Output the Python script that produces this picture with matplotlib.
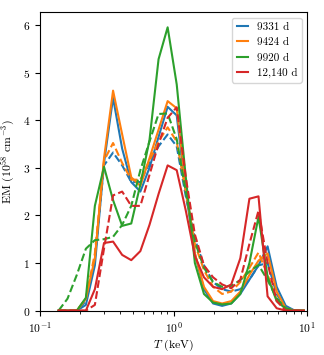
import numpy as np
import matplotlib
matplotlib.use("Agg")
import matplotlib.pyplot as plt

plt.rcParams['font.family'] = 'serif'
plt.rcParams['font.serif'] = ['cmr10']
plt.rcParams['mathtext.fontset'] = 'cm'
plt.rcParams['axes.formatter.use_mathtext'] = True
plt.rcParams['font.size'] = 8
plt.rcParams['axes.labelsize'] = 8.5
plt.rcParams['xtick.labelsize'] = 8.3
plt.rcParams['ytick.labelsize'] = 8.3

# temperature grid (keV)
T = [0.138, 0.161, 0.189, 0.221, 0.258, 0.302, 0.353, 0.413, 0.483, 0.565,
     0.661, 0.773, 0.904, 1.057, 1.236, 1.445, 1.690, 1.977, 2.312, 2.704,
     3.162, 3.698, 4.325, 5.058, 5.916, 6.918, 8.091, 9.462]

labels = ["9331 d", "9424 d", "9920 d", "12,140 d"]
colors = ["C0", "C1", "C2", "C3"]

# EM in 1e58 cm^-3, solid / dashed model for each epoch
em_9331 = [0, 0, 0, 0.12, 0.95, 3.1, 4.47, 3.4, 2.7, 2.5, 3.0, 3.65, 4.28, 4.1,
           2.5, 1.2, 0.45, 0.15, 0.1, 0.15, 0.35, 0.65, 0.95, 1.35, 0.5, 0.1, 0, 0]
em_9331_d = [0, 0, 0, 0.2, 1.1, 3.05, 3.32, 3.05, 2.7, 2.7, 3.1, 3.45, 3.7, 3.45,
             2.4, 1.5, 0.95, 0.6, 0.45, 0.4, 0.45, 0.65, 0.95, 1.0, 0.35, 0.05, 0, 0]
em_9424 = [0, 0, 0, 0.25, 1.1, 3.2, 4.62, 3.7, 2.8, 2.62, 3.2, 3.8, 4.4, 4.25,
           2.6, 1.2, 0.5, 0.2, 0.15, 0.2, 0.4, 0.75, 1.05, 1.2, 0.4, 0.05, 0, 0]
em_9424_d = [0, 0, 0, 0.25, 1.2, 3.15, 3.52, 3.1, 2.75, 2.75, 3.15, 3.55, 3.85, 3.55,
             2.5, 1.4, 0.85, 0.5, 0.35, 0.4, 0.6, 0.9, 1.22, 0.75, 0.25, 0.03, 0, 0]
em_9920 = [0, 0, 0, 0.27, 2.2, 3.02, 2.32, 1.78, 1.83, 2.65, 3.58, 5.28, 5.95, 4.75,
           2.8, 1.0, 0.35, 0.17, 0.13, 0.15, 0.35, 1.0, 1.97, 0.71, 0.2, 0.04, 0, 0]
em_9920_d = [0, 0.25, 0.75, 1.3, 1.48, 1.5, 1.55, 1.8, 2.2, 2.95, 3.55, 4.13, 4.14, 3.6,
             2.5, 1.45, 0.9, 0.6, 0.5, 0.52, 0.64, 0.82, 0.96, 0.64, 0.26, 0.05, 0, 0]
em_12140 = [0, 0, 0, 0, 0.45, 1.42, 1.45, 1.17, 1.06, 1.25, 1.8, 2.45, 3.05, 2.95,
            2.1, 1.15, 0.7, 0.5, 0.45, 0.55, 1.1, 2.35, 2.4, 0.3, 0.05, 0, 0, 0]
em_12140_d = [0, 0, 0, 0, 0.12, 1.3, 2.42, 2.5, 2.2, 2.2, 2.85, 3.5, 4.05, 4.27,
              2.8, 1.6, 0.95, 0.7, 0.55, 0.47, 0.65, 1.4, 2.1, 1.0, 0.2, 0, 0, 0]

solid = [em_9331, em_9424, em_9920, em_12140]
dashed = [em_9331_d, em_9424_d, em_9920_d, em_12140_d]

fig = plt.figure(figsize=(3.24, 3.55), dpi=100)
ax = fig.add_axes([0.123, 0.125, 0.825, 0.841])

for s, d, c, lab in zip(solid, dashed, colors, labels):
    ax.plot(T, s, color=c, lw=1.5, label=lab)
    ax.plot(T, d, color=c, lw=1.5, ls="--")

ax.set_xscale("log")
ax.set_xlim(0.1, 10)
ax.set_ylim(0, 6.27)
ax.set_xlabel(r"$T$ (keV)", labelpad=2)
ax.set_ylabel(r"EM ($10^{58}$ cm$^{-3}$)")
ax.legend(loc="upper right", handlelength=1.0)

fig.savefig("out.png", dpi=100)
